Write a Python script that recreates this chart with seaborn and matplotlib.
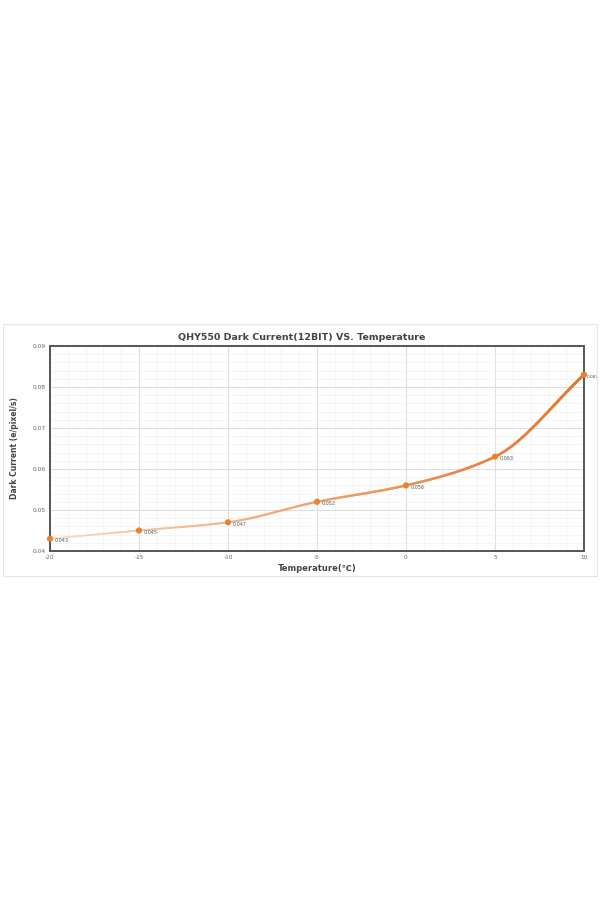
import numpy as np
import matplotlib
matplotlib.use("Agg")
import matplotlib.pyplot as plt
import seaborn as sns
import pandas as pd
from matplotlib.collections import LineCollection
from matplotlib.patches import Rectangle
from matplotlib.ticker import MultipleLocator
from matplotlib.colors import to_rgb

temperature = [-20, -15, -10, -5, 0, 5, 10]
dark_current = [0.043, 0.045, 0.047, 0.052, 0.056, 0.063, 0.083]
point_labels = ["0.043", "0.045", "0.047", "0.052", "0.056", "0.063", "0.083"]
x_ticks = [-20, -15, -10, -5, 0, 5, 10]
y_ticks = [0.04, 0.05, 0.06, 0.07, 0.08, 0.09]

sns.set_style("white")
plt.rcParams['font.family'] = ['DejaVu Sans']

fig = plt.figure(figsize=(6, 9), dpi=100)
fig.patch.set_facecolor("white")
# card border
fig.patches.append(Rectangle((3/600, 1-576/900), 594/600, 252/900, transform=fig.transFigure,
                             fill=False, edgecolor="#e6e6e6", linewidth=0.8))
ax = fig.add_axes([50/600, 1-551/900, 534/600, 205/900])

df = pd.DataFrame({"t": temperature, "dc": dark_current})

# smooth (monotone cubic) rendering path through the data points
xs = np.array(temperature, float)
ys = np.array(dark_current, float)
h = np.diff(xs)
d = np.diff(ys) / h
m = np.zeros_like(ys)
m[0], m[-1] = d[0], d[-1]
for i in range(1, len(xs) - 1):
    if d[i-1] * d[i] <= 0:
        m[i] = 0
    else:
        w1 = 2*h[i] + h[i-1]
        w2 = h[i] + 2*h[i-1]
        m[i] = (w1 + w2) / (w1/d[i-1] + w2/d[i])
cx, cy = [], []
for i in range(len(xs) - 1):
    tt = np.linspace(0, 1, 40, endpoint=(i == len(xs) - 2))
    h00 = 2*tt**3 - 3*tt**2 + 1
    h10 = tt**3 - 2*tt**2 + tt
    h01 = -2*tt**3 + 3*tt**2
    h11 = tt**3 - tt**2
    cx.extend(xs[i] + tt*h[i])
    cy.extend(h00*ys[i] + h10*h[i]*m[i] + h01*ys[i+1] + h11*h[i]*m[i+1])
cx, cy = np.array(cx), np.array(cy)
pts = np.column_stack([cx, cy]).reshape(-1, 1, 2)
segs = np.concatenate([pts[:-1], pts[1:]], axis=1)
frac = (cx[:-1] - cx.min()) / (cx.max() - cx.min())
c0 = np.array(to_rgb("#fcdcc4"))
c1 = np.array(to_rgb("#e8742a"))
f2 = frac**0.8
cols = c0[None, :]*(1-f2[:, None]) + c1[None, :]*f2[:, None]
lws = 1.1 + 1.0*frac
lc = LineCollection(segs, colors=cols, linewidths=lws, capstyle="round", zorder=3)
ax.add_collection(lc)

sns.scatterplot(data=df, x="t", y="dc", ax=ax, color="#e8822e", s=20,
                edgecolor="none", zorder=4, legend=False, clip_on=False)

for i, (x, y, lab) in enumerate(zip(temperature, dark_current, point_labels)):
    last = i == len(temperature) - 1
    ax.annotate(lab, (x, y), xytext=(2 if last else 3, -1.5), textcoords="offset points",
                fontsize=3.1 if last else 3.5, color="#555555", va="center", ha="left", zorder=5,
                annotation_clip=False)

ax.set_xlim(-20, 10)
ax.set_ylim(0.04, 0.09)
ax.set_xticks(x_ticks)
ax.set_xticklabels([str(v) for v in x_ticks])
ax.set_yticks(y_ticks)
ax.set_yticklabels([f"{v:.2f}" for v in y_ticks])
ax.xaxis.set_minor_locator(MultipleLocator(1))
ax.yaxis.set_minor_locator(MultipleLocator(0.002))
ax.grid(which="major", color="#dedede", linewidth=0.8, zorder=0)
ax.grid(which="minor", color="#f0f0f0", linewidth=0.5, zorder=0)
ax.set_axisbelow(True)
ax.tick_params(axis="both", which="both", length=0, labelsize=4.2, labelcolor="#666666", pad=3)
for s in ax.spines.values():
    s.set_visible(True)
    s.set_color("#555555")
    s.set_linewidth(1.4)
    s.set_zorder(2)

ax.set_xlabel("Temperature(℃)", fontsize=6, fontweight="bold", color="#444444", labelpad=3)
ax.set_ylabel("Dark Current (e/pixel/s)", fontsize=5.5, fontweight="bold", color="#444444", labelpad=10)
fig.text(0.503, 1-338/900, "QHY550 Dark Current(12BIT) VS. Temperature", ha="center", va="center",
         fontsize=6.8, fontweight="bold", color="#444444")

fig.savefig("out.png", dpi=100, facecolor="white")
